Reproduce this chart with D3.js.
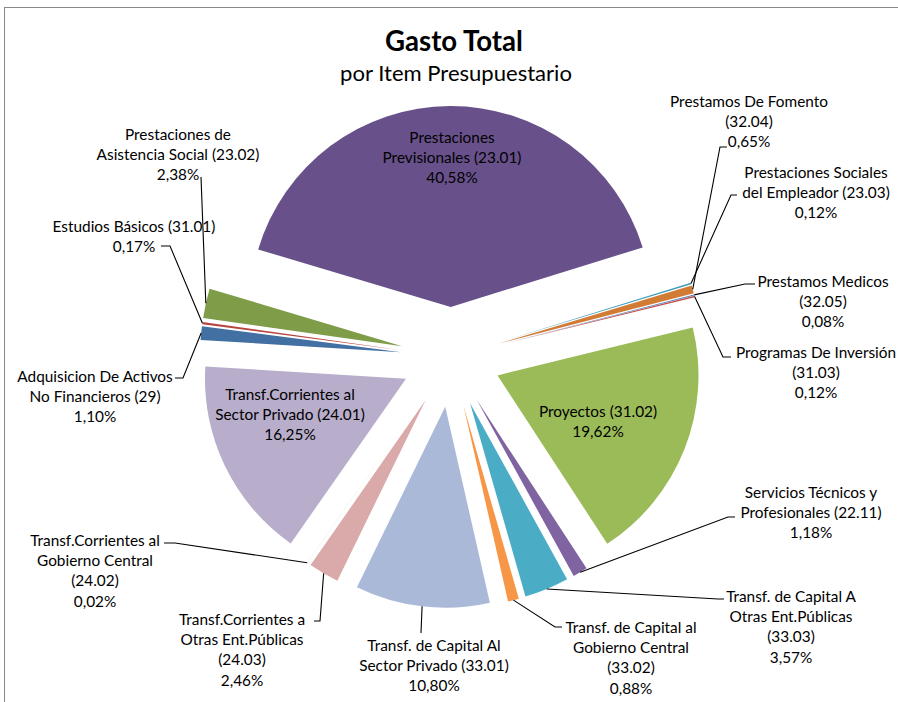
<!DOCTYPE html>
<html><head><meta charset="utf-8">
<script src="https://cdn.jsdelivr.net/npm/d3@7"></script>
<style>body{margin:0;background:#fff}svg{display:block}</style>
</head><body>
<svg id="c" width="898" height="702"></svg>
<script>
// ---- data ----
const categories = [
  "Adquisicion De Activos No Financieros","Estudios Básicos","Prestaciones de Asistencia Social",
  "Prestaciones Previsionales","Prestaciones Sociales del Empleador","Prestamos De Fomento",
  "Prestamos Medicos","Programas De Inversión","Proyectos","Servicios Técnicos y Profesionales",
  "Transf. de Capital A Otras Ent.Públicas","Transf. de Capital al Gobierno Central",
  "Transf. de Capital Al Sector Privado","Transf.Corrientes a Otras Ent.Públicas",
  "Transf.Corrientes al Gobierno Central","Transf.Corrientes al Sector Privado"];
const codes = ["29","31.01","23.02","23.01","23.03","32.04","32.05","31.03","31.02","22.11","33.03","33.02","33.01","24.03","24.02","24.01"];
const values = [1.10,0.17,2.38,40.58,0.12,0.65,0.08,0.12,19.62,1.18,3.57,0.88,10.80,2.46,0.02,16.25];
const labelLines = [
  ["Adquisicion De Activos","No Financieros (29)"],
  ["Estudios Básicos (31.01)"],
  ["Prestaciones de","Asistencia Social (23.02)"],
  ["Prestaciones","Previsionales (23.01)"],
  ["Prestaciones Sociales","del Empleador (23.03)"],
  ["Prestamos De Fomento","(32.04)"],
  ["Prestamos Medicos","(32.05)"],
  ["Programas De Inversión","(31.03)"],
  ["Proyectos (31.02)"],
  ["Servicios Técnicos y","Profesionales (22.11)"],
  ["Transf. de Capital A","Otras Ent.Públicas","(33.03)"],
  ["Transf. de Capital al","Gobierno Central","(33.02)"],
  ["Transf. de Capital Al","Sector Privado (33.01)"],
  ["Transf.Corrientes a","Otras Ent.Públicas","(24.03)"],
  ["Transf.Corrientes al","Gobierno Central","(24.02)"],
  ["Transf.Corrientes al","Sector Privado (24.01)"]];
const title = "Gasto Total";
const subtitle = "por Item Presupuestario";

// ---- styles / layout ----
const colors = ["#4270a2","#b8443f","#7f9c48","#68518a","#3a9ab6","#d27b35",
  "#4f81bd","#c0504d","#9bbb59","#8064a2","#4bacc6","#f79646",
  "#aab9d8","#d9aaa9","#c6d8a8","#b8adcb"];
// label position (center x, first line center y) and leader [elbowX, elbowY, horizEndX|null]
const labelPos = [
  {x:95,y:376,l:[183,378,175]},
  {x:134,y:226,l:[170,246,161]},
  {x:178,y:134,l:[201,177,null]},
  {x:452,y:137,l:null},
  {x:816,y:172,l:[731,195,737]},
  {x:749,y:101,l:[720,147,727]},
  {x:823,y:281,l:[745,284,755]},
  {x:816,y:352,l:[723,357,731]},
  {x:598,y:411,l:null},
  {x:811,y:492,l:[728,517,735]},
  {x:791,y:596,l:[718,599,724]},
  {x:631,y:627,l:[555,627,562]},
  {x:434,y:645,l:[421,633,null]},
  {x:242,y:619,l:[320,621,314]},
  {x:95,y:540,l:[175,543,164]},
  {x:290,y:394,l:null}];
const cx = 451, cy = 357, R = 201, EXPL = 50, LINE = 20.4;
const startDeg = 273.5;
const FONT = "Lato, 'Open Sans', sans-serif";

const svg = d3.select("#c");
svg.append("rect").attr("x",4.5).attr("y",7.5).attr("width",1000).attr("height",1000)
  .attr("fill","#fff").attr("stroke","#8a8a8a").attr("stroke-width",1);

// fit font size to reference width (Calibri-like metrics)
function fit(text, target, weight, base){
  const t = svg.append("text").attr("font-family",FONT).attr("font-size",base)
    .attr("font-weight",weight).text(text);
  const w = t.node().getComputedTextLength(); t.remove();
  return base*target/w;
}
const fs = fit("Asistencia Social (23.02)",163,"normal",14);
const fsT = fit(title,138,"bold",24);
const fsS = fit(subtitle,232,"normal",18);

svg.append("text").attr("x",454).attr("y",51).attr("text-anchor","middle")
  .attr("font-family",FONT).attr("font-weight","bold").attr("font-size",fsT).text(title);
svg.append("text").attr("x",456).attr("y",81).attr("text-anchor","middle")
  .attr("font-family",FONT).attr("font-size",fsS).text(subtitle);

const rad = d => d*Math.PI/180;
const pie = d3.pie().sort(null).value(d=>d)
  .startAngle(rad(startDeg)).endAngle(rad(startDeg)+2*Math.PI);
const arcs = pie(values);
const arc = d3.arc().innerRadius(0).outerRadius(R);

const g = svg.append("g").attr("transform",`translate(${cx},${cy})`);
g.selectAll("path").data(arcs).join("path")
  .attr("d",arc)
  .attr("fill",(d,i)=>colors[i])
  .attr("transform",d=>{const m=(d.startAngle+d.endAngle)/2;
     return `translate(${EXPL*Math.sin(m)},${-EXPL*Math.cos(m)})`;});

// leader lines
const fmt = v => v.toFixed(2).replace(".",",")+"%";
arcs.forEach((d,i)=>{
  const p = labelPos[i];
  if(!p.l) return;
  const m=(d.startAngle+d.endAngle)/2;
  const ox = cx+(R+EXPL)*Math.sin(m), oy = cy-(R+EXPL)*Math.cos(m);
  const pts = [[ox,oy],[p.l[0],p.l[1]]];
  if(p.l[2]!==null) pts.push([p.l[2],p.l[1]]);
  svg.append("path").attr("d",d3.line()(pts)).attr("fill","none")
    .attr("stroke","#000").attr("stroke-width",1.1);
});

// labels
arcs.forEach((d,i)=>{
  const p = labelPos[i];
  const lines = labelLines[i].concat([fmt(values[i])]);
  const t = svg.append("text").attr("text-anchor","middle")
    .attr("font-family",FONT).attr("font-size",fs).attr("fill","#000");
  lines.forEach((s,k)=>{
    t.append("tspan").attr("x",p.x).attr("y",p.y+k*LINE+fs*0.36).text(s);
  });
});
</script>
</body></html>
